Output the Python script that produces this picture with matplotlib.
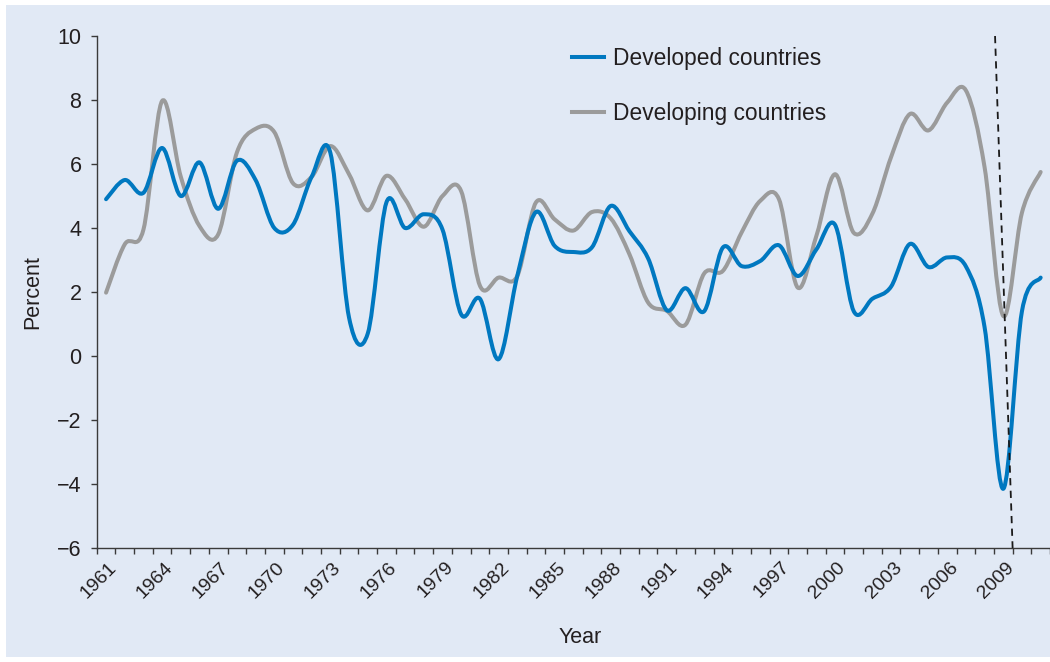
import matplotlib
matplotlib.use("Agg")
import matplotlib.pyplot as plt
from matplotlib.path import Path
from matplotlib.patches import PathPatch, Rectangle
from matplotlib.lines import Line2D
from matplotlib.transforms import ScaledTranslation
import numpy as np

# ---------------- data ----------------
years = list(range(1961, 2012))
developed = [4.9, 5.5, 5.1, 6.5, 5.0, 6.05, 4.6, 6.1, 5.5, 4.0,
             4.1, 5.6, 6.35, 1.2, 0.7, 4.8, 4.0, 4.43, 3.95, 1.3,
             1.79, -0.1, 2.5, 4.5, 3.44, 3.25, 3.4, 4.69, 3.9, 3.05,
             1.43, 2.12, 1.4, 3.39, 2.81, 2.97, 3.46, 2.5, 3.33, 4.1,
             1.4, 1.79, 2.17, 3.5, 2.78, 3.08, 2.8, 0.9, -4.15, 1.4,
             2.45]
developing = [1.98, 3.49, 3.95, 7.97, 5.6, 4.06, 3.8, 6.36, 7.1, 7.0,
              5.4, 5.6, 6.56, 5.68, 4.55, 5.63, 4.9, 4.04, 5.0, 5.15,
              2.2, 2.45, 2.5, 4.8, 4.27, 3.92, 4.5, 4.3, 3.18, 1.67,
              1.41, 0.98, 2.58, 2.66, 3.86, 4.85, 4.9, 2.14, 3.75, 5.68,
              3.85, 4.45, 6.22, 7.56, 7.05, 7.92, 8.3, 5.9, 1.25, 4.48,
              5.75]
series_names = ["Developed countries", "Developing countries"]
tick_years = list(range(1961, 2010, 3))
y_ticks = [-6, -4, -2, 0, 2, 4, 6, 8, 10]
crisis_x = [2008.56, 2009.5]
crisis_y = [10, -6]

# ---------------- style ----------------
BG = "#E1E9F5"
BLUE = "#0078C0"
GREY = "#9B9B9B"
TXT = "#231F20"
plt.rcParams["font.family"] = ["Liberation Sans", "DejaVu Sans"]

fig = plt.figure(figsize=(10.5, 6.62), dpi=100, facecolor="white")
bgrect = Rectangle((6 / 1050, 5 / 662), 1.0, 652 / 662,
                   transform=fig.transFigure, facecolor=BG,
                   edgecolor="none", zorder=-10)
fig.add_artist(bgrect)
ax = fig.add_axes([96.7 / 1050, 114 / 662, (1050 - 96.7) / 1050, 512 / 662])
ax.set_facecolor(BG)
ax.set_zorder(1)


def smooth_path(x, y):
    pts = np.column_stack([x, y]).astype(float)
    n = len(pts)
    verts = [pts[0]]
    codes = [Path.MOVETO]
    for i in range(n - 1):
        p0 = pts[max(i - 1, 0)]
        p1 = pts[i]
        p2 = pts[i + 1]
        p3 = pts[min(i + 2, n - 1)]
        c1 = p1 + (p2 - p0) / 6.0
        c2 = p2 - (p3 - p1) / 6.0
        verts += [c1, c2, p2]
        codes += [Path.CURVE4] * 3
    return Path(verts, codes)


for vals, col in [(developing, GREY), (developed, BLUE)]:
    patch = PathPatch(smooth_path(years, vals), facecolor="none",
                      edgecolor=col, lw=2.9, capstyle="round",
                      joinstyle="round", zorder=3)
    ax.add_patch(patch)

ax.plot(crisis_x, crisis_y, color="#1a1a1a", lw=1.3, ls=(0, (4, 3)), zorder=4,
        clip_on=False)

ax.set_xlim(1960.5, 2011.5)
ax.set_ylim(-6, 10)

for s in ["top", "right"]:
    ax.spines[s].set_visible(False)
for s in ["left", "bottom"]:
    ax.spines[s].set_color("#3a3a3a")
    ax.spines[s].set_linewidth(1.0)

ax.set_yticks(y_ticks)
ax.set_yticklabels([("\u2212" + str(abs(v))) if v < 0 else str(v) for v in y_ticks])
ax.tick_params(axis="y", length=4, width=1, color="#3a3a3a",
               labelsize=15.5, labelcolor=TXT, pad=7)

ax.set_xticks(np.arange(1960.5, 2012, 1.0))
ax.set_xticklabels([])
ax.tick_params(axis="x", which="major", length=4, width=1, color="#3a3a3a")
ax.set_xticks(tick_years, minor=True)
ax.set_xticklabels([str(t) for t in tick_years], minor=True, rotation=45,
                   ha="right", va="center", rotation_mode="anchor")
ax.tick_params(axis="x", which="minor", length=0, labelsize=14,
               labelcolor=TXT, pad=12)
shift = ScaledTranslation(8 / 100, 0, fig.dpi_scale_trans)
for lab in ax.get_xticklabels(minor=True):
    lab.set_transform(lab.get_transform() + shift)

ax.set_ylabel("Percent", fontsize=15.5, color=TXT, labelpad=10)
ax.set_xlabel("Year", fontsize=15.5, color=TXT)
ax.xaxis.set_label_coords(0.507, -0.155)

handles = [Line2D([], [], color=BLUE, lw=2.9),
           Line2D([], [], color=GREY, lw=2.9)]
ax.legend(handles, series_names, loc="upper left",
          bbox_to_anchor=(0.4986, 0.979), frameon=False, fontsize=16.4,
          handlelength=1.42, handletextpad=0.37, labelspacing=1.41,
          borderpad=0, borderaxespad=0, labelcolor=TXT)

fig.savefig("out.png", dpi=100, facecolor="white")
